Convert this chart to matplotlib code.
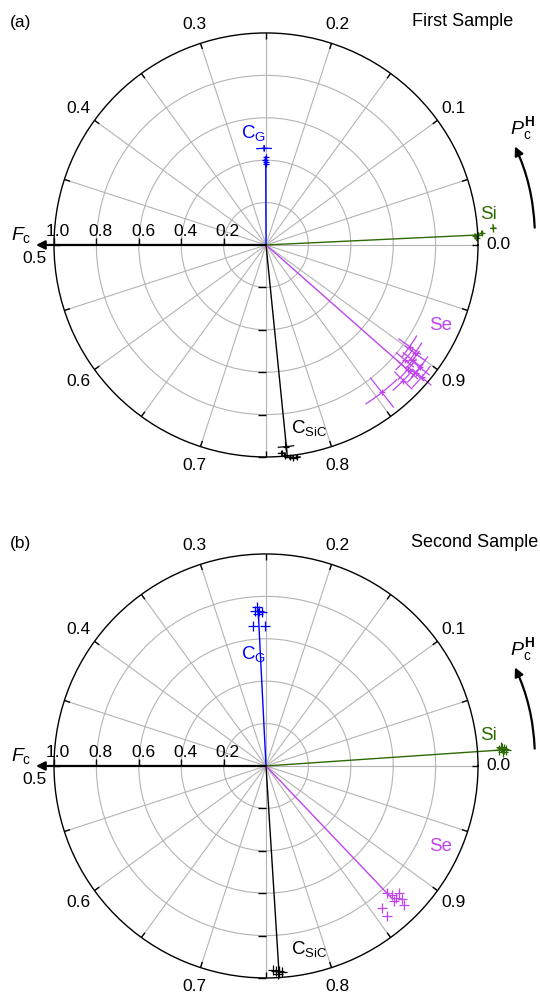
import numpy as np
import matplotlib.pyplot as plt

plt.rcParams['font.family'] = ['Liberation Sans', 'DejaVu Sans']
plt.rcParams['mathtext.fontset'] = 'custom'
plt.rcParams['mathtext.rm'] = 'Liberation Sans'
plt.rcParams['mathtext.it'] = 'Liberation Sans:italic'
plt.rcParams['mathtext.bf'] = 'Liberation Sans:bold'

# angular axis: P_c^H (0..1 around the circle), radial axis: F_c
theta_ticks = np.round(np.arange(0, 1, 0.05), 2)
r_ticks = [0.2, 0.4, 0.6, 0.8, 1.0]

# ---- first sample ----
cg1_p = [0.2533, 0.2505, 0.2510, 0.2500, 0.2508]
cg1_f = [0.456, 0.413, 0.401, 0.392, 0.383]
cg1_perr = [0.013, 0.003, 0.003, 0.003, 0.002]
cg1_ferr = [0.015, 0.006, 0.006, 0.005, 0.005]

csic1_p = [0.7657, 0.7620, 0.7642, 0.7679, 0.7703, 0.7728]
csic1_f = [0.956, 0.985, 0.999, 1.008, 1.014, 1.012]
csic1_perr = [0.0065, 0.003, 0.003, 0.003, 0.003, 0.003]
csic1_ferr = [0.025, 0.012, 0.010, 0.010, 0.010, 0.010]

si1_p = [0.0069, 0.0075, 0.0086, 0.0050, 0.0117]
si1_f = [0.987, 1.003, 1.019, 0.994, 1.075]
si1_perr = [0.002, 0.002, 0.002, 0.002, 0.003]
si1_ferr = [0.01, 0.01, 0.01, 0.01, 0.015]

se1_p = [0.902, 0.900, 0.890, 0.894, 0.893, 0.885, 0.887, 0.888, 0.856, 0.876]
se1_f = [0.830, 0.868, 0.850, 0.880, 0.927, 0.890, 0.930, 0.963, 0.885, 0.910]
se1_perr = [0.012, 0.011, 0.012, 0.010, 0.011, 0.012, 0.010, 0.011, 0.017, 0.012]
se1_ferr = [0.065, 0.060, 0.055, 0.060, 0.060, 0.065, 0.055, 0.060, 0.090, 0.060]

# mean direction lines (P, F)
lines1 = {'cg': (0.2505, 0.40), 'csic': (0.766, 1.0), 'si': (0.0075, 1.0), 'se': (0.885, 0.905)}

# ---- second sample ----
cg2_p = [0.2613, 0.2569, 0.2544, 0.2587, 0.2580, 0.2644, 0.2511]
cg2_f = [0.734, 0.733, 0.728, 0.750, 0.718, 0.662, 0.659]

csic2_p = [0.7557, 0.7578, 0.7603, 0.7621, 0.7594]
csic2_f = [0.961, 0.967, 0.970, 0.976, 0.983]

si2_p = [0.0111, 0.0119, 0.0114, 0.0108, 0.0096, 0.0126]
si2_f = [1.103, 1.115, 1.125, 1.135, 1.118, 1.110]

se2_p = [0.8714, 0.8736, 0.8736, 0.8786, 0.8706, 0.8767, 0.8590, 0.8580, 0.8748]
se2_f = [0.828, 0.850, 0.872, 0.867, 0.878, 0.900, 0.866, 0.911, 0.923]

lines2 = {'cg': (0.258, 0.74), 'csic': (0.760, 1.0), 'si': (0.0108, 1.11), 'se': (0.871, 0.86)}

colors = {'cg': '#0000ff', 'csic': 'black', 'si': '#2e6a04', 'se': '#bf45ee'}
names = {'cg': r'$\mathrm{C_G}$', 'csic': r'$\mathrm{C_{SiC}}$', 'si': 'Si', 'se': 'Se'}
# label positions (P, F)
name_pos = {'cg': (0.268, 0.532), 'csic': (0.7867, 0.887), 'si': (0.0215, 1.06), 'se': (0.931, 0.905)}


def th(p):
    return 2 * np.pi * np.asarray(p, dtype=float)


def setup_axes(ax):
    ax.set_ylim(0, 1)
    ax.set_yticks(r_ticks[:-1])
    ax.set_yticklabels([])
    ax.tick_params(axis='y', length=0)
    ax.set_xticks(th(theta_ticks))
    labels = []
    for p in theta_ticks:
        if round(p * 20) % 2 == 0 and abs(p - 0.5) > 1e-6:
            labels.append(f'{p:.1f}')
        else:
            labels.append('')
    ax.set_xticklabels(labels)
    ax.tick_params(axis='x', length=0, pad=7.5, labelsize=12.5)
    ax.grid(color='#b4b4b4', lw=0.8)
    ax.spines['polar'].set_linewidth(1.0)
    # inward ticks on the outer circle
    ax.vlines(th(theta_ticks), 0.972, 1.0, color='k', lw=1.0)

    # F_c axis pointing left
    ax.annotate('', xy=(np.pi, 1.085), xytext=(np.pi, 0),
                arrowprops=dict(arrowstyle='-|>', color='k', lw=1.6, mutation_scale=13,
                                shrinkA=0, shrinkB=0), annotation_clip=False)
    ax.plot(np.full(len(r_ticks), np.pi), r_ticks, ls='none', marker=2, ms=5, mew=1,
            color='k', clip_on=False)
    ax.plot(np.full(len(r_ticks), 1.5 * np.pi), r_ticks, ls='none', marker=0, ms=6, mew=1,
            color='k', clip_on=False)
    for r in r_ticks:
        ax.annotate(f'{r:.1f}', xy=(np.pi, r), xytext=(3, 4), textcoords='offset points',
                    ha='center', va='bottom', fontsize=12.5)
    ax.text(th(0.509), 1.093, '0.5', ha='center', va='center', fontsize=12.5)
    ax.text(th(0.4936), 1.154, r'$F_\mathrm{c}$', ha='center', va='center', fontsize=14)

    # P_c^H direction arrow
    ax.annotate('', xy=(np.deg2rad(21.6), 1.263), xytext=(np.deg2rad(3.7), 1.27),
                arrowprops=dict(arrowstyle='-|>', color='k', lw=1.6, mutation_scale=13,
                                connectionstyle='arc3,rad=0.1', shrinkA=0, shrinkB=0),
                annotation_clip=False)
    ax.text(th(0.068), 1.33, r'$P_\mathrm{c}^\mathbf{H}$', ha='center', va='center', fontsize=14)


def draw_group(ax, key, p, f, perr, ferr, line_end, ms):
    c = colors[key]
    lp, lf = line_end
    ax.plot([th(lp), th(lp)], [0, lf], color=c, lw=1.0, clip_on=False)
    eb = ax.errorbar(th(p), f, xerr=None if perr is None else th(perr),
                     yerr=ferr, fmt='+', ms=ms, mew=0.9, color=c,
                     elinewidth=0.9, capsize=0)
    eb.lines[0].set_clip_on(False)
    for coll in eb.lines[2]:
        coll.set_clip_on(False)
    npp, nf = name_pos[key]
    ax.text(th(npp), nf, names[key], color=c, ha='center', va='center', fontsize=13.5)


fig = plt.figure(figsize=(5.4, 9.96), dpi=100)

ax1 = fig.add_axes([0.1, 0.5412, 0.7852, 0.4257], projection='polar')
setup_axes(ax1)
draw_group(ax1, 'cg', cg1_p, cg1_f, cg1_perr, cg1_ferr, lines1['cg'], 5)
draw_group(ax1, 'csic', csic1_p, csic1_f, csic1_perr, csic1_ferr, lines1['csic'], 5)
draw_group(ax1, 'si', si1_p, si1_f, si1_perr, si1_ferr, lines1['si'], 5)
draw_group(ax1, 'se', se1_p, se1_f, se1_perr, se1_ferr, lines1['se'], 5)
ax1.set_ylim(0, 1)

ax2 = fig.add_axes([0.1, 0.0181, 0.7852, 0.4257], projection='polar')
setup_axes(ax2)
draw_group(ax2, 'cg', cg2_p, cg2_f, None, None, lines2['cg'], 7)
draw_group(ax2, 'csic', csic2_p, csic2_f, None, None, lines2['csic'], 7)
draw_group(ax2, 'si', si2_p, si2_f, None, None, lines2['si'], 7)
draw_group(ax2, 'se', se2_p, se2_f, None, None, lines2['se'], 7)
ax2.set_ylim(0, 1)

fig.text(20.8 / 540, 1 - 22.7 / 996, '(a)', ha='center', va='center', fontsize=12.5)
fig.text(462.6 / 540, 1 - 21.7 / 996, 'First Sample', ha='center', va='center', fontsize=13)
fig.text(20.8 / 540, 1 - 543.3 / 996, '(b)', ha='center', va='center', fontsize=12.5)
fig.text(474.5 / 540, 1 - 542.3 / 996, 'Second Sample', ha='center', va='center', fontsize=13)

fig.savefig('out.png', dpi=100)
